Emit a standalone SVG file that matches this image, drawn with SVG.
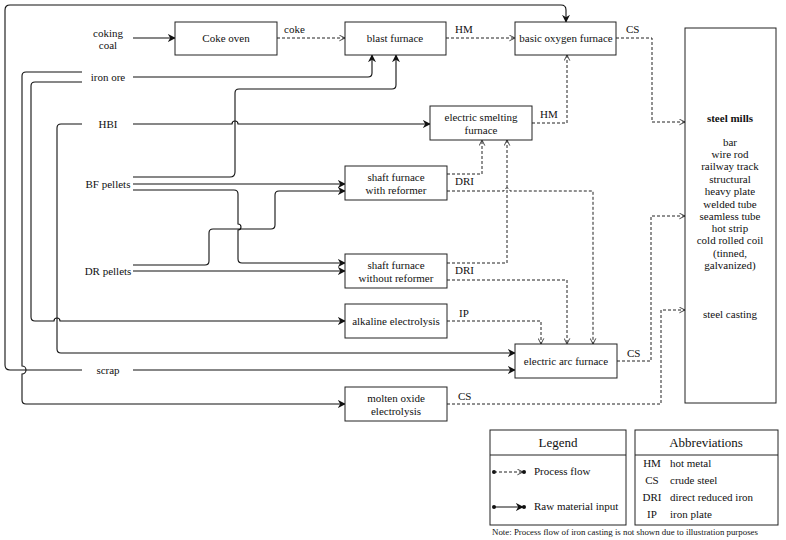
<svg xmlns="http://www.w3.org/2000/svg" width="786" height="540" viewBox="0 0 786 540" font-family="'Liberation Serif', 'Times New Roman', Tinos, 'DejaVu Serif', serif">
<style>
text{font-family:'Liberation Serif','Times New Roman',Tinos,'DejaVu Serif',serif;font-size:11px;fill:#111}
.c{text-anchor:middle}
.box{fill:#fff;stroke:#222;stroke-width:1}
.raw{fill:none;stroke:#111;stroke-width:1.1;marker-end:url(#ah)}
.pf{fill:none;stroke:#222;stroke-width:1;stroke-dasharray:3,2;marker-end:url(#oh)}
</style>
<defs>
<marker id="ah" viewBox="0 0 10 10" refX="9" refY="5" markerWidth="8" markerHeight="8" markerUnits="userSpaceOnUse" orient="auto"><path d="M0,0 L10,5 L0,10 L3,5 Z" fill="#111"/></marker>
<marker id="oh" viewBox="0 0 10 10" refX="9" refY="5" markerWidth="7" markerHeight="7" markerUnits="userSpaceOnUse" orient="auto"><path d="M1,1 L9,5 L1,9" fill="none" stroke="#222" stroke-width="1.2"/></marker>
</defs>
<rect width="786" height="540" fill="#fff"/>
<g id="connectors">
<path class="raw" d="M133,38 H175"/>
<path class="raw" d="M82,370 H10 Q5,370 5,365 V10 Q5,5 10,5 H561 Q566,5 566,10 V22"/>
<path class="raw" d="M133,370 H515"/>
<path class="raw" d="M82,124 H61 Q57,124 57,128 V349 Q57,353 61,353 H515"/>
<path class="raw" d="M133,77 H368 Q372,77 372,73 V55"/>
<path class="raw" d="M82,72 H26 Q22,72 22,76 V366 A3,3 0 0 1 22,374 V400 Q22,404 26,404 H345"/>
<path class="raw" d="M82,82 H35 Q31,82 31,86 V317 Q31,321 35,321 H54 A3,3 0 0 1 60,321 H345"/>
<path class="raw" d="M133,124 H232 A3,3 0 0 1 238,124 H430"/>
<path class="raw" d="M133,177 H230 Q235,177 235,172 V93 Q235,89 239,89 H392 Q396,89 396,85 V55"/>
<path class="raw" d="M133,184 H345"/>
<path class="raw" d="M133,190 H234 Q238,190 238,194 V224 A3,3 0 0 1 238,230 V259 Q238,263 242,263 H345"/>
<path class="raw" d="M133,265 H205 Q209,265 209,261 V233 Q209,229 213,229 H271 Q275,229 275,225 V195 Q275,191 279,191 H345"/>
<path class="raw" d="M133,271 H345"/>
<path class="pf" d="M277,38 H345"/>
<path class="pf" d="M446,38 H515"/>
<path class="pf" d="M616,38 H652 V122 H685"/>
<path class="pf" d="M532,123 H567 V55"/>
<path class="pf" d="M447,174 H482 V140"/>
<path class="pf" d="M447,191 H504 A3,3 0 0 1 510,191 H593 V344"/>
<path class="pf" d="M447,263 H507 V140"/>
<path class="pf" d="M447,280 H567 V344"/>
<path class="pf" d="M447,321 H541 V344"/>
<path class="pf" d="M617,361 H651 V216 H685"/>
<path class="pf" d="M447,404 H661 V310 H685"/>
</g>
<g id="labels">
<text class="c" x="108" y="37">coking</text>
<text class="c" x="108" y="49">coal</text>
<text class="c" x="108" y="81">iron ore</text>
<text class="c" x="108" y="128">HBI</text>
<text class="c" x="108" y="188">BF pellets</text>
<text class="c" x="108" y="275">DR pellets</text>
<text class="c" x="108" y="374">scrap</text>
<text x="284" y="33">coke</text>
<text x="455" y="33">HM</text>
<text x="626" y="33">CS</text>
<text x="540" y="118">HM</text>
<text x="455" y="185">DRI</text>
<text x="455" y="274">DRI</text>
<text x="459" y="317">IP</text>
<text x="627" y="357">CS</text>
<text x="458" y="400">CS</text>
</g>
<g id="coke-oven"><rect class="box" x="175" y="22" width="102" height="33"/><text class="c" x="226" y="42">Coke oven</text></g>
<g id="blast-furnace"><rect class="box" x="345" y="22" width="101" height="33"/><text class="c" x="395" y="42">blast furnace</text></g>
<g id="bof"><rect class="box" x="515" y="22" width="101" height="33"/><text class="c" x="566" y="42">basic oxygen furnace</text></g>
<g id="esf"><rect class="box" x="430" y="106" width="102" height="34"/><text class="c" x="481" y="121">electric smelting</text><text class="c" x="481" y="134">furnace</text></g>
<g id="sf-with"><rect class="box" x="345" y="166" width="102" height="34"/><text class="c" x="396" y="181">shaft furnace</text><text class="c" x="396" y="194">with reformer</text></g>
<g id="sf-without"><rect class="box" x="345" y="254" width="102" height="34"/><text class="c" x="396" y="269">shaft furnace</text><text class="c" x="396" y="282">without reformer</text></g>
<g id="alkaline"><rect class="box" x="345" y="304" width="102" height="34"/><text class="c" x="396" y="325">alkaline electrolysis</text></g>
<g id="eaf"><rect class="box" x="515" y="344" width="102" height="34"/><text class="c" x="566" y="365">electric arc furnace</text></g>
<g id="moe"><rect class="box" x="345" y="387" width="102" height="34"/><text class="c" x="396" y="402">molten oxide</text><text class="c" x="396" y="415">electrolysis</text></g>
<g id="steel-mills"><rect class="box" x="685" y="28" width="91" height="375"/>
<text class="c" x="730" y="122" font-weight="bold">steel mills</text>
<text class="c" x="730" y="146">bar</text>
<text class="c" x="730" y="158">wire rod</text>
<text class="c" x="730" y="170">railway track</text>
<text class="c" x="730" y="183">structural</text>
<text class="c" x="730" y="195">heavy plate</text>
<text class="c" x="730" y="208">welded tube</text>
<text class="c" x="730" y="220">seamless tube</text>
<text class="c" x="730" y="232">hot strip</text>
<text class="c" x="730" y="244">cold rolled coil</text>
<text class="c" x="730" y="257">(tinned,</text>
<text class="c" x="730" y="269">galvanized)</text>
<text class="c" x="730" y="318">steel casting</text>
</g>
<g id="legend">
<rect class="box" x="490" y="430" width="136" height="95"/>
<line x1="490" y1="455" x2="626" y2="455" stroke="#222"/>
<text class="c" x="558" y="447" style="font-size:13px">Legend</text>
<circle cx="494" cy="472" r="2" fill="#111"/><path d="M494,472 H523" stroke="#222" stroke-dasharray="3,2" marker-end="url(#oh)" fill="none"/><circle cx="524" cy="472" r="2" fill="#111"/>
<text x="534" y="475">Process flow</text>
<circle cx="494" cy="507" r="2" fill="#111"/><path d="M494,507 H523" stroke="#111" marker-end="url(#ah)" fill="none"/><circle cx="524" cy="507" r="2" fill="#111"/>
<text x="534" y="510">Raw material input</text>
</g>
<g id="abbreviations">
<rect class="box" x="635" y="430" width="143" height="95"/>
<line x1="635" y1="455" x2="778" y2="455" stroke="#222"/>
<text class="c" x="706" y="447" style="font-size:13px">Abbreviations</text>
<text class="c" x="652" y="467">HM</text><text x="670" y="467">hot metal</text>
<text class="c" x="652" y="484">CS</text><text x="670" y="484">crude steel</text>
<text class="c" x="652" y="501">DRI</text><text x="670" y="501">direct reduced iron</text>
<text class="c" x="652" y="518">IP</text><text x="670" y="518">iron plate</text>
</g>
<text x="492" y="535" style="font-size:7.5px" textLength="266" lengthAdjust="spacingAndGlyphs">Note: Process flow of iron casting is not shown due to illustration purposes</text>
</svg>
